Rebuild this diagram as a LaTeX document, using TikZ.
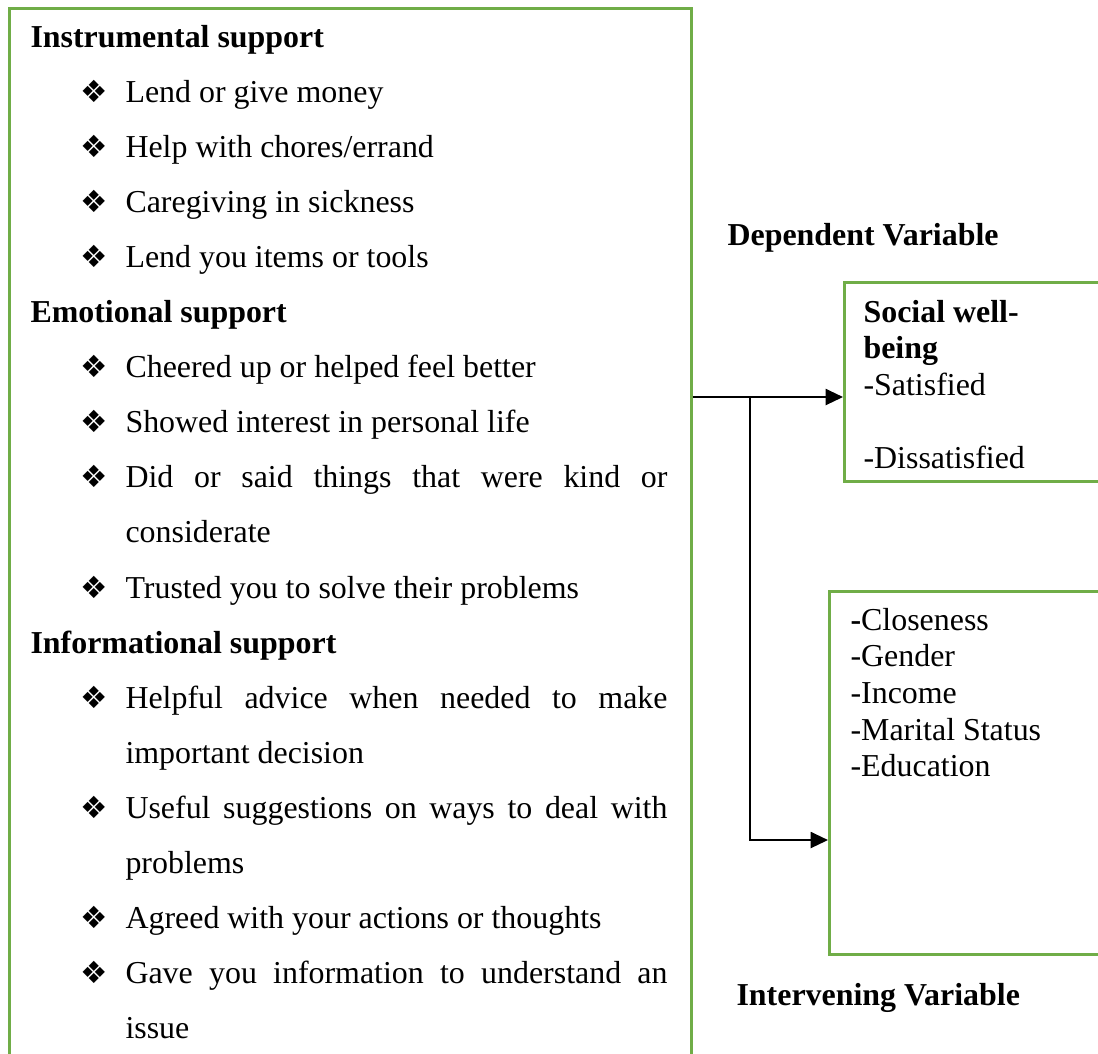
\documentclass[tikz,border=0pt]{standalone}
\usepackage{fontspec}
\setmainfont{Liberation Serif}
\newfontfamily\bulfont{DejaVu Sans}
\usepackage{tikz}
\usetikzlibrary{arrows.meta}
\definecolor{boxgreen}{RGB}{112,173,71}
\newcommand{\supbul}{\llap{\makebox[16.9pt][l]{\bulfont\fontsize{11.5}{11.5}\selectfont ❖}}}
\tikzset{
	var_box/.style = {rectangle, draw=boxgreen, line width=1pt, inner sep=0pt,
		anchor=north west},% cadre vert
	sup_head/.style = {anchor=base west, inner sep=0pt,
		font=\bfseries\fontsize{12}{13.8}\selectfont},% titre en gras
	sup_item/.style = {anchor=base west, inner sep=0pt, text width=203.8pt,
		align=justify, font=\fontsize{12}{20.7}\selectfont},% puce justifiee
	var_txt/.style = {anchor=base west, inner sep=0pt, text width=110pt,
		align=flush left, font=\fontsize{12}{13.8}\selectfont},% texte des variables
	arr/.style = {-{Triangle[length=6.5pt,width=6pt]}, line width=0.8pt}
}
\begin{document}
\begin{tikzpicture}[x=0.376pt, y=-0.376pt]
\useasboundingbox (0,0) rectangle (1098,1053);
\clip (0,0) rectangle (1098,1053);
% cadres
\node [var_box, minimum width=256.4pt, minimum height=420pt] (indep) at (8,7) {};
\node [var_box, minimum width=110pt, minimum height=74.8pt] (dep) at (843,281) {};
\node [var_box, minimum width=110pt, minimum height=136.5pt] (interv) at (828,590) {};
% variable independante
\node [sup_head] (instr) at (30,47) {Instrumental support};
\node [sup_item] (money) at (125,102.1) {\supbul Lend or give money};
\node [sup_item] (chores) at (125,157.2) {\supbul Help with chores/errand};
\node [sup_item] (sick) at (125,212.3) {\supbul Caregiving in sickness};
\node [sup_item] (tools) at (125,267.4) {\supbul Lend you items or tools};
\node [sup_head] (emot) at (30,322.5) {Emotional support};
\node [sup_item] (cheer) at (125,377.6) {\supbul Cheered up or helped feel better};
\node [sup_item] (interest) at (125,432.7) {\supbul Showed interest in personal life};
\node [sup_item] (kind) at (125,487.8) {\supbul Did or said things that were kind or\linebreak considerate};
\node [sup_item] (trust) at (125,598) {\supbul Trusted you to solve their problems};
\node [sup_head] (inform) at (30,653.1) {Informational support};
\node [sup_item] (advice) at (125,708.2) {\supbul Helpful advice when needed to make\linebreak important decision};
\node [sup_item] (suggest) at (125,818.4) {\supbul Useful suggestions on ways to deal with\linebreak problems};
\node [sup_item] (agree) at (125,928.6) {\supbul Agreed with your actions or thoughts};
\node [sup_item] (issue) at (125,983.7) {\supbul Gave you information to understand an\linebreak issue};
% variable dependante
\node [sup_head] (deplab) at (727,245) {Dependent Variable};
\node [var_txt] (deptxt) at (863,322) {\textbf{Social well-}\\\textbf{being}\\-Satisfied\\[13.8pt]-Dissatisfied};
% variable intermediaire
\node [var_txt] (intvtxt) at (850,630) {\textbf{-}Closeness\\-Gender\\-Income\\-Marital Status\\-Education};
\node [sup_head] (intvlab) at (736,1005) {Intervening Variable};
% fleches
\coordinate (fork) at (750,397);
\coordinate (turn) at (750,840);
\draw [arr] (indep.east |- fork) -- (dep.west |- fork);
\draw [arr] (fork) -- (turn) -- (interv.west |- turn);
\end{tikzpicture}
\end{document}
